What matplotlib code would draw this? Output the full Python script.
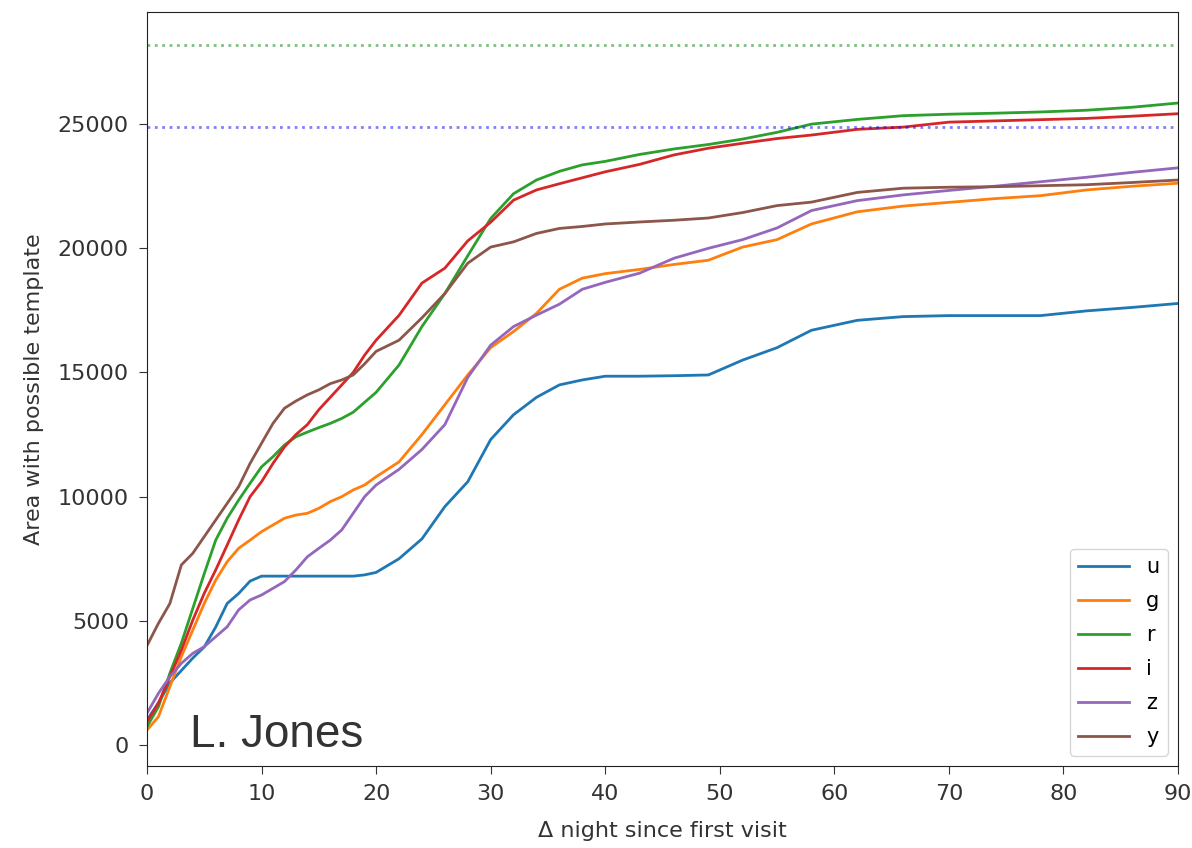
import matplotlib.pyplot as plt
import numpy as np

# nights since first visit
nights = [0, 1, 2, 3, 4, 5, 6, 7, 8, 9, 10, 11, 12, 13, 14, 15, 16, 17, 18, 19, 20,
          22, 24, 26, 28, 30, 32, 34, 36, 38, 40, 43, 46, 49, 52, 55, 58, 62, 66, 70,
          74, 78, 82, 86, 90]

area_u = [1000, 1700, 2500, 3000, 3500, 3950, 4750, 5700, 6100, 6600, 6800, 6800, 6800, 6800,
          6800, 6800, 6800, 6800, 6800, 6850, 6950, 7500, 8300, 9600, 10600, 12300, 13300,
          14000, 14500, 14700, 14850, 14850, 14870, 14900, 15500, 16000, 16700, 17100, 17250,
          17290, 17290, 17290, 17480, 17620, 17780]
area_g = [600, 1140, 2350, 3560, 4630, 5700, 6640, 7380, 7920, 8250, 8590, 8860, 9130, 9260,
          9330, 9530, 9800, 10000, 10270, 10470, 10800, 11400, 12500, 13700, 14900, 16000,
          16650, 17380, 18350, 18800, 18980, 19150, 19350, 19520, 20050, 20350, 20980, 21470,
          21700, 21850, 22000, 22120, 22350, 22500, 22620]
area_r = [740, 1540, 2890, 4100, 5500, 6900, 8250, 9130, 9860, 10540, 11200, 11610, 12080,
          12410, 12600, 12780, 12950, 13150, 13400, 13800, 14200, 15300, 16850, 18180, 19700,
          21200, 22200, 22750, 23100, 23360, 23500, 23780, 24000, 24180, 24400, 24670, 25000,
          25190, 25340, 25400, 25440, 25490, 25560, 25680, 25850]
area_i = [940, 1680, 2750, 3820, 5030, 6110, 7050, 8050, 9060, 10000, 10600, 11340, 12000,
          12500, 12900, 13500, 14000, 14500, 15000, 15700, 16300, 17300, 18600, 19200, 20300,
          21050, 21940, 22350, 22600, 22840, 23080, 23380, 23760, 24030, 24230, 24420, 24560,
          24790, 24880, 25080, 25130, 25180, 25230, 25320, 25420]
area_z = [1280, 2080, 2750, 3290, 3690, 3960, 4360, 4760, 5440, 5840, 6040, 6310, 6580, 7050,
          7580, 7920, 8250, 8660, 9330, 10000, 10470, 11100, 11900, 12900, 14800, 16100, 16850,
          17310, 17750, 18350, 18630, 19000, 19600, 20000, 20350, 20820, 21520, 21920, 22150,
          22330, 22500, 22680, 22860, 23060, 23240]
area_y = [4000, 4900, 5700, 7250, 7720, 8390, 9060, 9730, 10400, 11340, 12150, 12950, 13560,
          13850, 14100, 14300, 14550, 14700, 14900, 15350, 15850, 16300, 17200, 18180, 19400,
          20050, 20260, 20600, 20800, 20880, 20980, 21060, 21130, 21220, 21440, 21720, 21860,
          22250, 22420, 22460, 22480, 22520, 22560, 22650, 22750]

filters = ["u", "g", "r", "i", "z", "y"]
areas = [area_u, area_g, area_r, area_i, area_z, area_y]

# reference totals (dotted)
total_blue = 24900
total_green = 28200

text_col = "#333333"

fig = plt.figure(figsize=(11.92, 8.48), dpi=100)
ax = fig.add_axes([0.1233, 0.0967, 0.865, 0.889])

for f, a in zip(filters, areas):
    ax.plot(nights, a, lw=2, label=f)

ax.axhline(total_blue, color="b", ls=":", lw=2, alpha=0.5)
ax.axhline(total_green, color="g", ls=":", lw=2, alpha=0.5)

ax.set_xlim(0, 90)
ax.set_ylim(-845, 29510)
ax.set_xticks(np.arange(0, 91, 10))
ax.set_yticks(np.arange(0, 25001, 5000))
ax.tick_params(labelsize=16, colors=text_col, labelcolor=text_col, length=6, pad=7)
ax.set_xlabel("\u0394 night since first visit", fontsize=16, color=text_col, labelpad=12)
ax.set_ylabel("Area with possible template", fontsize=16, color=text_col, labelpad=10)
for s in ax.spines.values():
    s.set_color("#222222")

ax.legend(loc="lower right", fontsize=15, handlelength=2.45, labelspacing=0.67,
          borderaxespad=0.5)
ax.text(0.0417, 0.025, "L. Jones", transform=ax.transAxes, fontsize=33,
        family="Liberation Sans", color=text_col, va="baseline")

fig.savefig("out.png", dpi=100)
